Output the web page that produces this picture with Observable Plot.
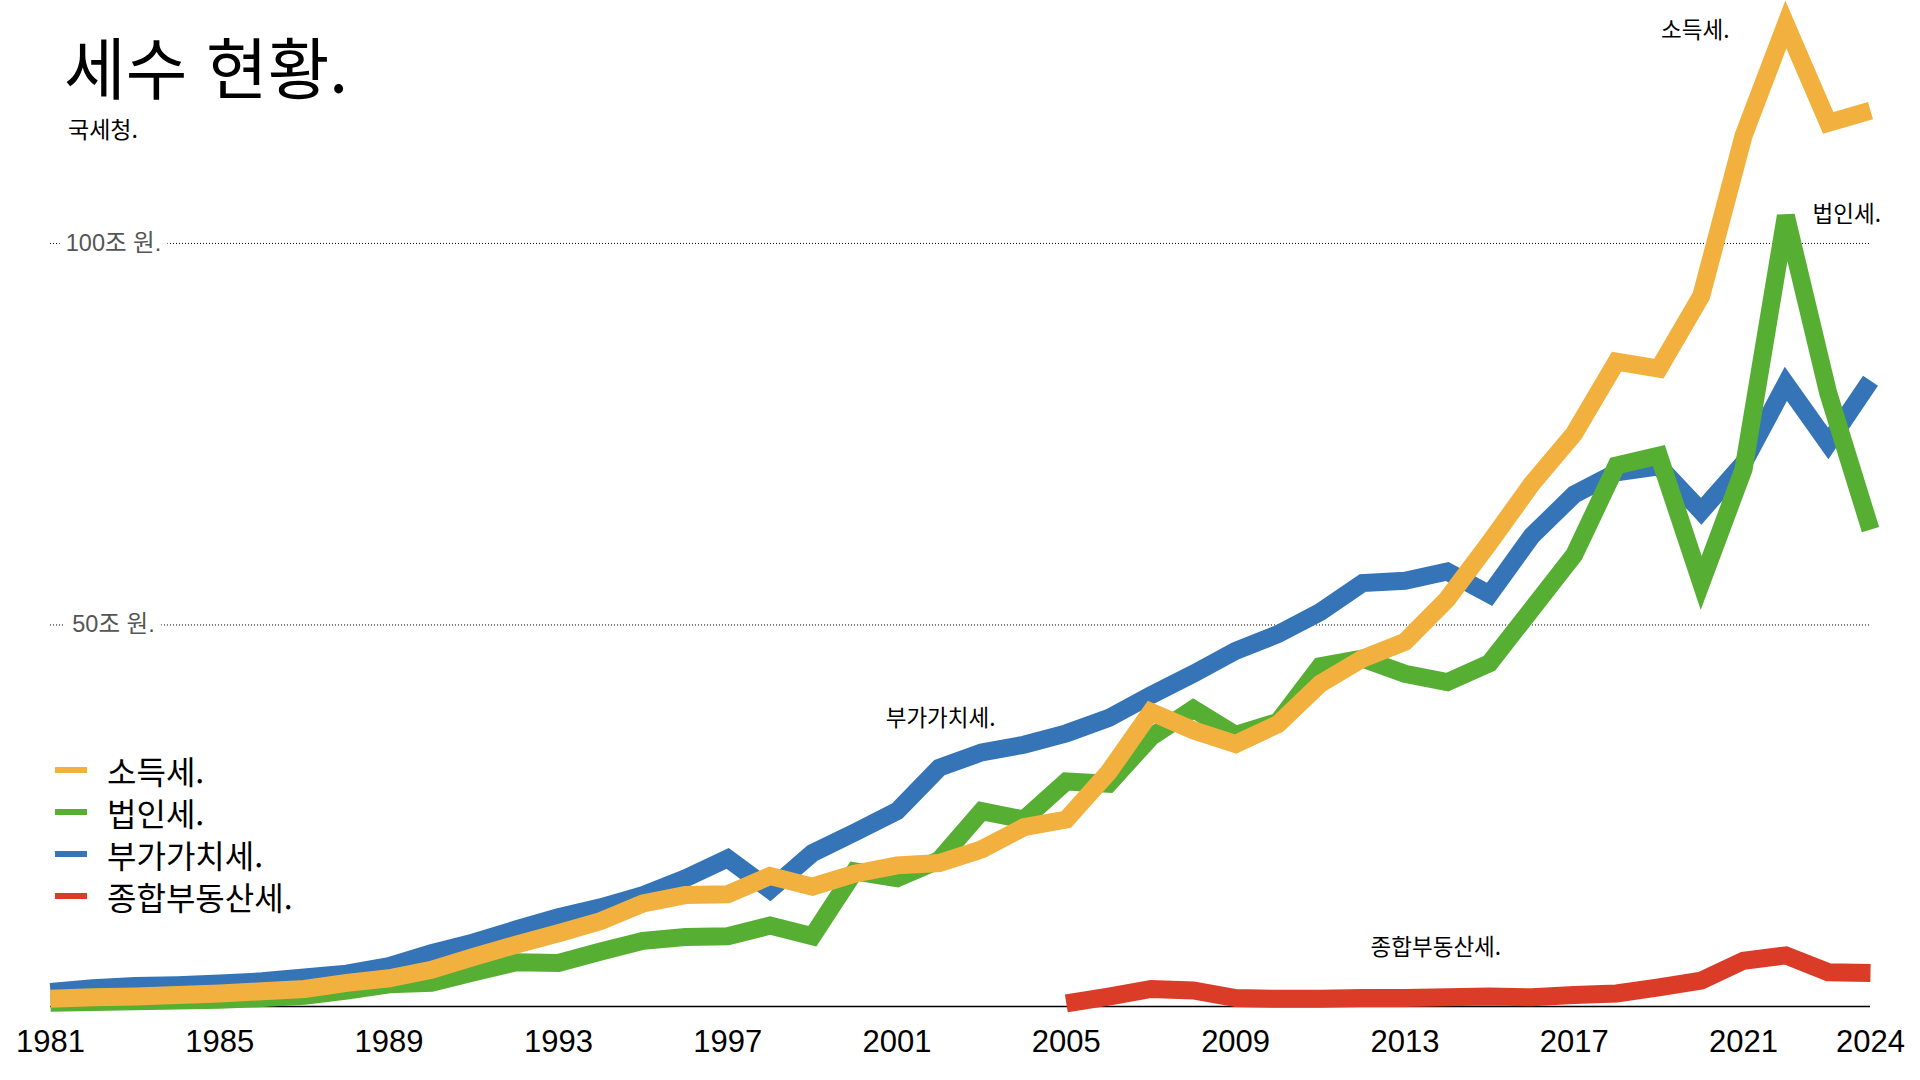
<!DOCTYPE html>
<html lang="ko">
<head>
<meta charset="utf-8">
<script src="https://cdn.jsdelivr.net/npm/d3@7"></script>
<script src="https://cdn.jsdelivr.net/npm/@observablehq/plot@0.6"></script>
<style>
  html, body { margin: 0; padding: 0; background: #fff; }
  #wrap { position: relative; width: 1920px; height: 1080px; overflow: hidden; }
  #chart { position: absolute; left: 0; top: 0; }
  .kr { font-family: "Noto Sans CJK KR", "Noto Sans", sans-serif; color: #000; }
  #title { position: absolute; left: 64px; top: 31px; font-size: 67px; line-height: 1; font-weight: 400; white-space: nowrap; }
  #subtitle { position: absolute; left: 68px; top: 117px; font-size: 23px; line-height: 1; white-space: nowrap; }
  #legend { position: absolute; left: 55px; top: 749px; }
  .row { display: flex; align-items: center; height: 42px; font-size: 32px; line-height: 42px; white-space: nowrap; }
  .sw { width: 32px; height: 6px; margin-right: 20px; flex: none; }
</style>
</head>
<body>
<div id="wrap">
  <div id="chart"></div>
  <div id="title" class="kr">세수 현황.</div>
  <div id="subtitle" class="kr">국세청.</div>
  <div id="legend" class="kr"></div>
</div>
<script>
// ---- data (조 원) ----
const years = [1981,1982,1983,1984,1985,1986,1987,1988,1989,1990,
               1991,1992,1993,1994,1995,1996,1997,1998,1999,2000,
               2001,2002,2003,2004,2005,2006,2007,2008,2009,2010,
               2011,2012,2013,2014,2015,2016,2017,2018,2019,2020,
               2021,2022,2023,2024];

const incomeTax = [1.0,1.2,1.3,1.5,1.7,2.0,2.3,3.1,3.7,4.8,
                   6.5,8.1,9.6,11.2,13.5,14.6,14.7,17.1,15.7,17.4,
                   18.5,18.8,20.6,23.5,24.5,30.7,38.6,36.2,34.4,37.0,
                   42.3,45.6,47.8,53.4,60.8,68.5,75.1,84.5,83.6,93.1,
                   114.1,128.7,115.8,117.4];

const corporateTax = [0.5,0.6,0.7,0.8,0.9,1.1,1.4,2.1,2.9,3.1,
                      4.5,5.8,5.7,7.2,8.6,9.1,9.2,10.6,9.2,17.7,
                      16.8,19.2,25.6,24.5,29.5,29.2,35.3,39.0,35.6,37.3,
                      44.6,45.6,43.6,42.5,45.0,52.1,59.2,70.9,72.2,55.5,
                      70.4,103.6,80.4,62.5];

const vat = [1.9,2.4,2.7,2.8,3.0,3.3,3.8,4.3,5.3,7.0,
             8.4,10.1,11.7,13.0,14.6,16.8,19.4,15.3,20.1,22.8,
             25.6,31.3,33.3,34.3,35.8,37.8,40.8,43.6,46.6,48.8,
             51.7,55.5,55.8,57.0,54.0,61.7,67.1,70.0,70.8,64.9,
             71.2,81.6,73.8,82.0];

const realEstateYears = [2005,2006,2007,2008,2009,2010,2011,2012,2013,2014,
                         2015,2016,2017,2018,2019,2020,2021,2022,2023,2024];
const realEstateTax = [0.4,1.3,2.3,2.1,1.1,1.0,1.0,1.1,1.1,1.2,
                       1.3,1.2,1.5,1.7,2.5,3.4,6.0,6.7,4.5,4.4];

const seriesNames = ["소득세", "법인세", "부가가치세", "종합부동산세"];
const seriesColors = ["#f2b13f", "#56af33", "#3574b6", "#da3c28"];
const drawOrder = ["부가가치세", "법인세", "소득세", "종합부동산세"];

const tickYears = [1981,1985,1989,1993,1997,2001,2005,2009,2013,2017,2021,2024];
const gridValues = [50, 100];
const gridLabels = ["50조 원.", "100조 원."];

// in-chart series labels (year, value) anchors
const labelNames = ["소득세.", "법인세.", "부가가치세.", "종합부동산세."];
const labelYears = [2019.86, 2023.44, 2002.03, 2013.73];
const labelValues = [127.8, 103.8, 37.7, 7.7];

// ---- build table ----
const valuesBySeries = {
  "소득세": years.map((y, i) => ({year: y, value: incomeTax[i]})),
  "법인세": years.map((y, i) => ({year: y, value: corporateTax[i]})),
  "부가가치세": years.map((y, i) => ({year: y, value: vat[i]})),
  "종합부동산세": realEstateYears.map((y, i) => ({year: y, value: realEstateTax[i]}))
};
const table = drawOrder.flatMap(s => valuesBySeries[s].map(d => ({...d, series: s})));
const grid = gridValues.map((v, i) => ({value: v, label: gridLabels[i]}));
const labels = labelNames.map((t, i) => ({text: t, year: labelYears[i], value: labelValues[i]}));

const KR = "Noto Sans CJK KR";

const chart = Plot.plot({
  width: 1920,
  height: 1080,
  marginLeft: 50,
  marginRight: 50,
  marginTop: 14,
  marginBottom: 74,
  style: {fontFamily: "'Liberation Sans', 'Noto Sans CJK KR', sans-serif", fontSize: "31px", color: "#000", background: "#fff", overflow: "visible"},
  x: {domain: [1981, 2024], ticks: tickYears, tickSize: 0, tickPadding: 23, tickFormat: "d", label: null},
  y: {domain: [0, 130], axis: null},
  color: {domain: seriesNames, range: seriesColors},
  marks: [
    Plot.ruleY(grid, {y: "value", stroke: "#000", strokeWidth: 1, strokeDasharray: "1,2"}),
    Plot.text(grid, {y: "value", text: "label", frameAnchor: "left", dx: 63, textAnchor: "middle", lineAnchor: "middle",
      fill: "#555", stroke: "#fff", strokeWidth: 19, paintOrder: "stroke", fontSize: 23.5}),
    Plot.ruleY([0], {stroke: "#000", strokeWidth: 1.3}),
    Plot.line(table, {x: "year", y: "value", z: "series", stroke: "series", strokeWidth: 18,
      strokeLinejoin: "miter", strokeLinecap: "butt", strokeMiterlimit: 4}),
    Plot.text(labels, {x: "year", y: "value", text: "text", textAnchor: "middle", lineAnchor: "middle",
      fill: "#000", fontSize: 22.5, fontFamily: KR})
  ]
});
document.getElementById("chart").appendChild(chart);

// legend
const legend = document.getElementById("legend");
seriesNames.forEach((s, i) => {
  const row = document.createElement("div");
  row.className = "row";
  const sw = document.createElement("span");
  sw.className = "sw";
  sw.style.background = seriesColors[i];
  const tx = document.createElement("span");
  tx.textContent = s + ".";
  row.appendChild(sw);
  row.appendChild(tx);
  legend.appendChild(row);
});
</script>
</body>
</html>
